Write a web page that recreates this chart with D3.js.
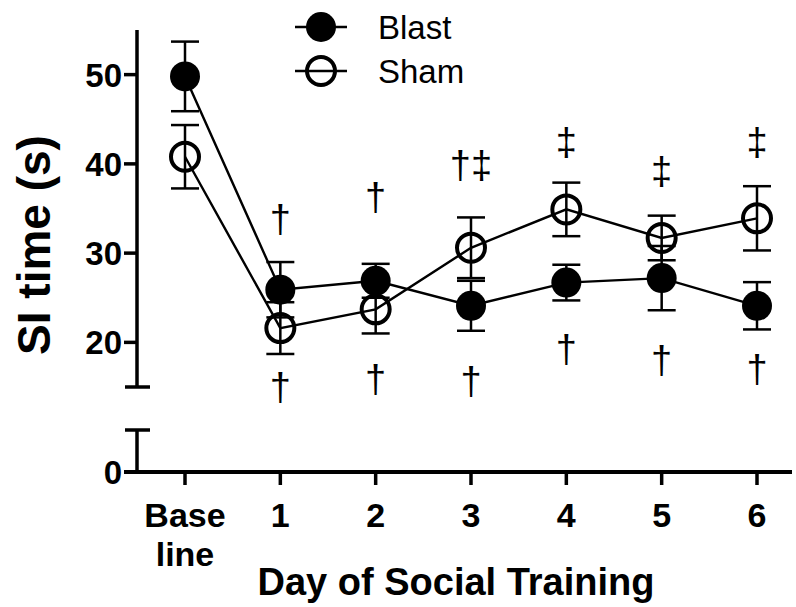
<!DOCTYPE html>
<html>
<head>
<meta charset="utf-8">
<script src="https://cdnjs.cloudflare.com/ajax/libs/d3/7.8.5/d3.min.js"></script>
<style>
  body { margin: 0; background: #fff; }
  text { font-family: "Liberation Sans", Arial, sans-serif; }
</style>
</head>
<body>
<div id="chart"></div>
<script>
// data
const days = ["Base line", "1", "2", "3", "4", "5", "6"];
const blastMean = [49.8, 25.9, 26.9, 24.1, 26.7, 27.2, 24.1];
const blastSem = [3.9, 3.1, 1.9, 2.8, 2.0, 3.6, 2.65];
const shamMean = [40.8, 21.6, 23.7, 30.6, 34.9, 31.7, 33.9];
const shamSem = [3.55, 2.9, 2.7, 3.4, 3.0, 2.5, 3.6];

// significance marks (value in s where the mark sits)
const marksAbove = ["", "\u2020", "\u2020", "\u2020\u2021", "\u2021", "\u2021", "\u2021"];
const marksAboveAt = [null, 34.0, 36.5, 40.0, 42.6, 39.4, 42.6];
const marksBelow = ["", "\u2020", "\u2020", "\u2020", "\u2020", "\u2020", "\u2020"];
const marksBelowAt = [null, 15.2, 16.1, 15.8, 19.4, 18.2, 17.2];

const upperTicks = [20, 30, 40, 50];
const lowerTicks = [0];

// canvas
const width = 796, height = 607;
const svg = d3.select("#chart").append("svg")
    .attr("width", width)
    .attr("height", height);

const axisX = 137, baseY = 472;

// scales (broken y axis)
const xScale = d3.scalePoint().domain(days).range([185, 757]);
const yScale = d3.scaleLinear().domain([15, 55]).range([387, 30]);
const yLow = d3.scaleLinear().domain([0, 5]).range([baseY, 430]);

// y axis, upper segment
svg.append("line")
    .attr("x1", axisX).attr("x2", axisX)
    .attr("y1", yScale(55)).attr("y2", yScale(15))
    .attr("stroke", "#000").attr("stroke-width", 3.5);
svg.append("line")
    .attr("x1", axisX - 12).attr("x2", axisX + 13)
    .attr("y1", yScale(15)).attr("y2", yScale(15))
    .attr("stroke", "#000").attr("stroke-width", 3.5);

// y axis, lower segment
svg.append("line")
    .attr("x1", axisX).attr("x2", axisX)
    .attr("y1", yLow(5)).attr("y2", yLow(0))
    .attr("stroke", "#000").attr("stroke-width", 3.5);
svg.append("line")
    .attr("x1", axisX - 12).attr("x2", axisX + 13)
    .attr("y1", yLow(5)).attr("y2", yLow(5))
    .attr("stroke", "#000").attr("stroke-width", 3.5);

// y ticks + labels
const yTicks = upperTicks.map(v => ({ v: v, y: yScale(v) }))
    .concat(lowerTicks.map(v => ({ v: v, y: yLow(v) })));
svg.selectAll(".ytick")
    .data(yTicks)
    .enter().append("line")
    .attr("x1", axisX - 13).attr("x2", axisX)
    .attr("y1", d => d.y).attr("y2", d => d.y)
    .attr("stroke", "#000").attr("stroke-width", 3.5);
svg.selectAll(".ylab")
    .data(yTicks)
    .enter().append("text")
    .attr("x", axisX - 15)
    .attr("y", d => d.y)
    .attr("dy", "0.36em")
    .style("text-anchor", "end")
    .style("font-size", "33px")
    .style("font-weight", "bold")
    .text(d => d.v);

// x axis
svg.append("line")
    .attr("x1", axisX - 13).attr("x2", 792)
    .attr("y1", baseY).attr("y2", baseY)
    .attr("stroke", "#000").attr("stroke-width", 4);
svg.selectAll(".xtick")
    .data(days)
    .enter().append("line")
    .attr("x1", d => xScale(d)).attr("x2", d => xScale(d))
    .attr("y1", baseY).attr("y2", baseY + 13)
    .attr("stroke", "#000").attr("stroke-width", 3.5);
svg.selectAll(".xlab")
    .data(days)
    .enter().append("text")
    .attr("x", d => xScale(d))
    .attr("y", 527)
    .style("text-anchor", "middle")
    .style("font-size", "34px")
    .style("font-weight", "bold")
    .each(function(d) {
        const parts = d.split(" ");
        d3.select(this).selectAll("tspan")
            .data(parts)
            .enter().append("tspan")
            .attr("x", xScale(d))
            .attr("dy", (p, i) => i === 0 ? 0 : 39)
            .text(p => p);
    });

// axis titles
svg.append("text")
    .attr("x", 456)
    .attr("y", 595)
    .style("text-anchor", "middle")
    .style("font-size", "38px")
    .style("font-weight", "bold")
    .text("Day of Social Training");

svg.append("text")
    .attr("transform", "translate(50, 245) rotate(-90)")
    .style("text-anchor", "middle")
    .style("font-size", "46px")
    .style("font-weight", "bold")
    .text("SI time (s)");

// series
const series = [
    { name: "Sham", mean: shamMean, sem: shamSem, fill: "none" },
    { name: "Blast", mean: blastMean, sem: blastSem, fill: "#000" }
];

const line = d3.line()
    .x((d, i) => xScale(days[i]))
    .y(d => yScale(d));

series.forEach(s => {
    const g = svg.append("g");

    // error bars
    const eb = g.selectAll(".eb")
        .data(s.mean)
        .enter().append("g");
    eb.append("line")
        .attr("x1", (d, i) => xScale(days[i])).attr("x2", (d, i) => xScale(days[i]))
        .attr("y1", (d, i) => yScale(d + s.sem[i]))
        .attr("y2", (d, i) => yScale(d - s.sem[i]))
        .attr("stroke", "#000").attr("stroke-width", 2.5);
    [1, -1].forEach(sign => {
        eb.append("line")
            .attr("x1", (d, i) => xScale(days[i]) - 14)
            .attr("x2", (d, i) => xScale(days[i]) + 14)
            .attr("y1", (d, i) => yScale(d + sign * s.sem[i]))
            .attr("y2", (d, i) => yScale(d + sign * s.sem[i]))
            .attr("stroke", "#000").attr("stroke-width", 2.5);
    });

    g.append("path")
        .datum(s.mean)
        .attr("d", line)
        .attr("fill", "none")
        .attr("stroke", "#000")
        .attr("stroke-width", 2.4);

    g.selectAll("circle")
        .data(s.mean)
        .enter().append("circle")
        .attr("cx", (d, i) => xScale(days[i]))
        .attr("cy", d => yScale(d))
        .attr("r", s.fill === "none" ? 14 : 15)
        .attr("fill", s.fill)
        .attr("stroke", "#000")
        .attr("stroke-width", s.fill === "none" ? 4 : 0);
});

// significance marks
svg.selectAll(".above")
    .data(days)
    .enter().append("text")
    .filter((d, i) => marksAboveAt[i] !== null)
    .attr("x", d => xScale(d))
    .attr("y", d => yScale(marksAboveAt[days.indexOf(d)]))
    .attr("dy", "0.38em")
    .style("text-anchor", "middle")
    .style("font-size", "38px")
    .text(d => marksAbove[days.indexOf(d)]);

svg.selectAll(".below")
    .data(days)
    .enter().append("text")
    .filter((d, i) => marksBelowAt[i] !== null)
    .attr("x", d => xScale(d))
    .attr("y", d => yScale(marksBelowAt[days.indexOf(d)]))
    .attr("dy", "0.38em")
    .style("text-anchor", "middle")
    .style("font-size", "38px")
    .text(d => marksBelow[days.indexOf(d)]);

// legend
const legend = svg.append("g");
const legendItems = [
    { name: "Blast", fill: "#000", y: 27 },
    { name: "Sham", fill: "none", y: 71 }
];
legendItems.forEach(item => {
    legend.append("line")
        .attr("x1", 295).attr("x2", 347)
        .attr("y1", item.y).attr("y2", item.y)
        .attr("stroke", "#000").attr("stroke-width", 2.4);
    legend.append("circle")
        .attr("cx", 321).attr("cy", item.y)
        .attr("r", item.fill === "none" ? 14 : 15)
        .attr("fill", item.fill)
        .attr("stroke", "#000")
        .attr("stroke-width", item.fill === "none" ? 4 : 0);
    legend.append("text")
        .attr("x", 378)
        .attr("y", item.y + 12)
        .style("font-size", "33px")
        .text(item.name);
});
</script>
</body>
</html>
